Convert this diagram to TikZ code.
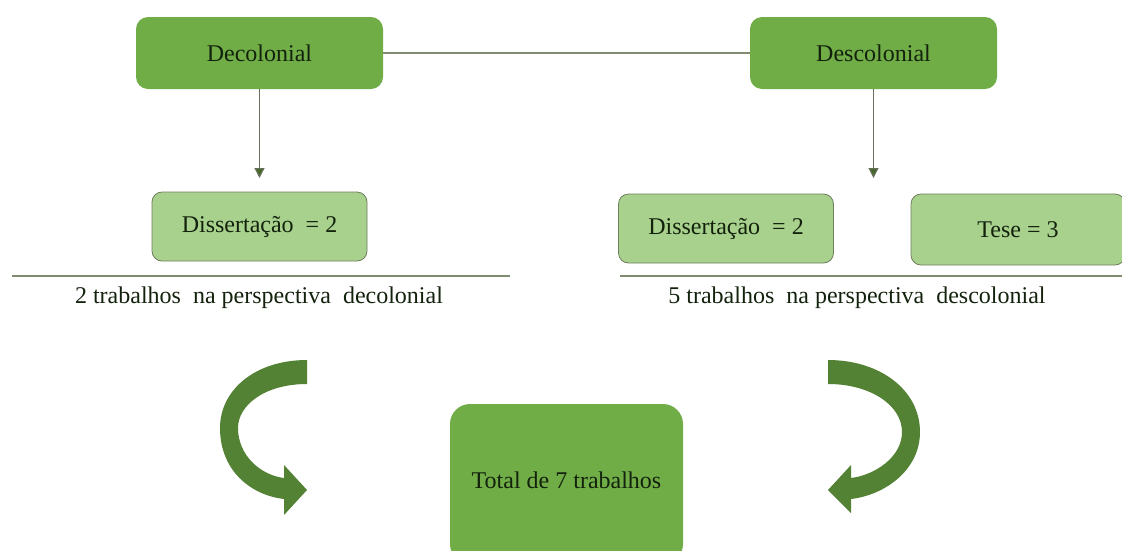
\documentclass[tikz,border=0pt]{standalone}
\usepackage{fontspec}
\setmainfont{Liberation Serif}
\usetikzlibrary{arrows.meta}
\definecolor{gmain}{HTML}{70AD47}
\definecolor{glight}{HTML}{A9D18E}
\definecolor{gborder}{HTML}{6E7E5E}
\definecolor{gline}{HTML}{7F8C70}
\definecolor{gdark}{HTML}{548235}
\definecolor{gtext}{HTML}{13220C}
\tikzset{
  topbox/.style={draw=none, fill=gmain, rounded corners=12pt, minimum width=247pt, minimum height=72pt, text=gtext, font=\fontsize{24}{28}\selectfont},
  subbox/.style={draw=gborder, line width=0.8pt, fill=glight, rounded corners=10pt, minimum width=215pt, minimum height=69pt, text=gtext, font=\fontsize{24}{28}\selectfont},
  totbox/.style={draw=none, fill=gmain, rounded corners=20pt, minimum width=233pt, minimum height=160pt, text=gtext, font=\fontsize{24}{28}\selectfont},
  caption/.style={text=gtext, font=\fontsize{24}{28}\selectfont},
  linkline/.style={draw=gline, line width=1.3pt},
  downarrow/.style={draw=gline!80!black, line width=1.2pt, -{Triangle[length=10pt,width=10pt,fill=gdark!80!black]}},
  baseline/.style={draw=gline, line width=2pt},
  bigarrow/.style={fill=gdark, draw=none}
}
\begin{document}
\begin{tikzpicture}[x=1pt,y=-1pt]
\useasboundingbox (0,0) rectangle (1122,550);
\clip (0,0) rectangle (1122,550);
% top nodes
\node[topbox] (dec) at (259.5,53) {Decolonial};
\node[topbox] (desc) at (873.5,53) {Descolonial};
\draw[linkline] (dec) -- (desc);
% sub nodes
\node[subbox] (dissL) at (259.5,226.5) {Dissertação\ \ = 2};
\node[subbox] (dissR) at (726,228.5) {Dissertação\ \ = 2};
\node[subbox, minimum width=214pt, minimum height=71pt] (tese) at (1018,229.5) {Tese = 3};
% down arrows
\coordinate (aL) at (259.5,178);
\coordinate (aR) at (873.5,178);
\draw[downarrow] (dec.south) -- (aL);
\draw[downarrow] (desc.south) -- (aR);
% base lines
\coordinate (l1) at (12,276);
\coordinate (l2) at (510,276);
\coordinate (r1) at (620,276);
\coordinate (r2) at (1122,276);
\draw[baseline] (l1) -- (l2);
\draw[baseline] (r1) -- (r2);
\node[caption] (capL) at (259,298) {2 trabalhos\ \ na perspectiva\ \ decolonial};
\node[caption] (capR) at (857,298) {5 trabalhos\ \ na perspectiva\ \ descolonial};
% total
\node[totbox] (tot) at (566.5,484) {\raisebox{7pt}{Total de 7 trabalhos}};
% curved arrows
\begin{scope}[shift={(307,360)}]
\fill[bigarrow] (0,0) .. controls (-52,0) and (-87,30) .. (-87,68)
  .. controls (-87,110) and (-57,135) .. (-23,139) -- (-23,155) -- (0,130) -- (-23,105) -- (-23,118)
  .. controls (-47,115) and (-69,95) .. (-69,68)
  .. controls (-69,45) and (-42,24) .. (0,24) -- cycle;
\end{scope}
\begin{scope}[shift={(828,360)}, xscale=-1]
\fill[bigarrow] (0,0) .. controls (-52,0) and (-92,30) .. (-92,72)
  .. controls (-92,110) and (-57,135) .. (-23,139) -- (-23,153) -- (0,130) -- (-23,105) -- (-23,118)
  .. controls (-47,115) and (-74,97) .. (-74,72)
  .. controls (-74,45) and (-42,24) .. (0,24) -- cycle;
\end{scope}
\end{tikzpicture}
\end{document}
